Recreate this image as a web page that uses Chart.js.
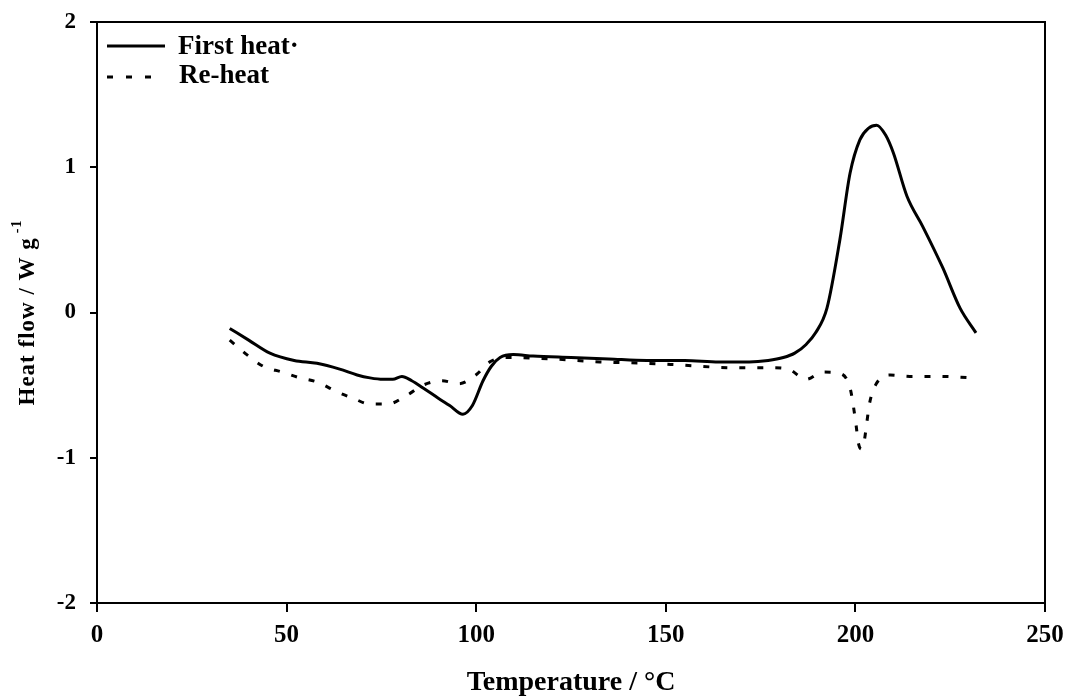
<!DOCTYPE html>
<html lang="en">
<head>
    <meta charset="UTF-8">
    <title>DSC heat flow</title>
    <script src="https://cdn.jsdelivr.net/npm/chart.js"></script>
    <style>
        body {
            margin: 0;
            padding: 0;
            background: #ffffff;
        }
        #wrap {
            width: 1074px;
            height: 699px;
        }
    </style>
</head>
<body>
    <div id="wrap">
        <canvas id="dsc" width="1074" height="699"></canvas>
    </div>

    <script>
        // First heating scan
        const firstTemp = [35, 40, 45.6, 52, 58, 64, 68.6, 72, 75.4, 78, 80.4, 83, 86, 90, 93, 96.5, 99, 101.8, 104, 106.3, 109.8,
            115, 125, 135, 145, 155, 164, 172, 177, 181, 184, 187, 189.5, 192.5, 195.9, 198.6, 201.2, 203.5, 205.6, 208, 210,
            213.6, 217.8, 223, 227.6, 231.8];
        const firstFlow = [-0.11, -0.19, -0.28, -0.33, -0.35, -0.39, -0.43, -0.45, -0.46, -0.46, -0.44, -0.47, -0.52, -0.59, -0.64,
            -0.70, -0.64, -0.47, -0.37, -0.31, -0.29, -0.30, -0.31, -0.32, -0.33, -0.33, -0.34, -0.34, -0.33, -0.31, -0.28,
            -0.22, -0.14, 0.03, 0.5, 0.96, 1.19, 1.27, 1.29, 1.22, 1.10, 0.80, 0.59, 0.31, 0.03, -0.14];

        // Second heating scan
        const reheatTemp = [35, 39.5, 43.8, 48.8, 53.5, 58.2, 62.8, 67.5, 72, 76.7, 81.7, 86, 90.9, 95.5, 99.9, 103.6, 108.4,
            120, 132.6, 145, 152.9, 167.7, 177.5, 182.3, 187, 191.4, 196, 198.6, 199.5, 200.2, 200.8, 201.6, 202.3, 203,
            203.7, 205.3, 209.2, 214.4, 222, 231];
        const reheatFlow = [-0.19, -0.29, -0.37, -0.41, -0.45, -0.48, -0.54, -0.59, -0.63, -0.63, -0.57, -0.50, -0.47, -0.49,
            -0.43, -0.34, -0.31, -0.32, -0.34, -0.35, -0.36, -0.38, -0.38, -0.39, -0.46, -0.41, -0.42, -0.52, -0.65, -0.78,
            -0.90, -0.94, -0.89, -0.76, -0.63, -0.50, -0.43, -0.44, -0.44, -0.45];

        const xTicks = [0, 50, 100, 150, 200, 250];
        const yTicks = [-2, -1, 0, 1, 2];

        const FONT = "'Liberation Serif', 'Times New Roman', serif";

        function toPoints(xs, ys) {
            return xs.map((x, i) => ({ x: x, y: ys[i] }));
        }

        // box around the plot area, legend and axis titles
        const decorations = {
            id: "decorations",
            afterDraw(chart) {
                const ctx = chart.ctx;
                const a = chart.chartArea;
                ctx.save();

                ctx.strokeStyle = "#000";
                ctx.lineWidth = 2;
                ctx.strokeRect(a.left, a.top, a.right - a.left, a.bottom - a.top);

                // legend
                ctx.fillStyle = "#000";
                ctx.font = "bold 27px " + FONT;
                ctx.textBaseline = "middle";
                ctx.textAlign = "left";

                ctx.lineWidth = 3;
                ctx.beginPath();
                ctx.moveTo(107, 46);
                ctx.lineTo(165, 46);
                ctx.stroke();
                ctx.fillText("First heat\u00b7", 178, 47);

                ctx.setLineDash([6, 13]);
                ctx.beginPath();
                ctx.moveTo(107, 77);
                ctx.lineTo(152, 77);
                ctx.stroke();
                ctx.setLineDash([]);
                ctx.fillText("Re-heat", 179, 76);

                // x title
                ctx.font = "bold 28px " + FONT;
                ctx.textAlign = "center";
                ctx.fillText("Temperature / \u00b0C", (a.left + a.right) / 2, 683);

                // y title with superscript
                ctx.translate(28, (a.top + a.bottom) / 2);
                ctx.rotate(-Math.PI / 2);
                ctx.letterSpacing = "1px";
                ctx.font = "bold 23px " + FONT;
                const main = "Heat flow / W g";
                const sup = "-1";
                const wMain = ctx.measureText(main).width;
                ctx.font = "bold 14px " + FONT;
                const wSup = ctx.measureText(sup).width;
                const start = -(wMain + wSup + 4) / 2;
                ctx.textAlign = "left";
                ctx.font = "bold 23px " + FONT;
                ctx.fillText(main, start, 0);
                ctx.font = "bold 14px " + FONT;
                ctx.fillText(sup, start + wMain + 4, -11);

                ctx.restore();
            }
        };

        const chart = new Chart(document.getElementById("dsc"), {
            type: "line",
            data: {
                datasets: [{
                    label: "First heat",
                    data: toPoints(firstTemp, firstFlow),
                    borderColor: "#000",
                    borderWidth: 3,
                    pointRadius: 0,
                    cubicInterpolationMode: "monotone",
                    fill: false
                }, {
                    label: "Re-heat",
                    data: toPoints(reheatTemp, reheatFlow),
                    borderColor: "#000",
                    borderWidth: 3,
                    borderDash: [6, 12],
                    pointRadius: 0,
                    cubicInterpolationMode: "monotone",
                    fill: false
                }]
            },
            options: {
                responsive: false,
                animation: false,
                layout: { padding: { top: 22, right: 29, left: 0, bottom: 0 } },
                plugins: {
                    legend: { display: false },
                    tooltip: { enabled: false }
                },
                scales: {
                    x: {
                        type: "linear",
                        min: 0,
                        max: 250,
                        afterFit(scale) {
                            scale.height = 96;
                            scale.paddingLeft = 0;
                            scale.paddingRight = 0;
                        },
                        afterBuildTicks(scale) { scale.ticks = xTicks.map(v => ({ value: v })); },
                        border: { color: "#000", width: 2 },
                        grid: { drawOnChartArea: false, drawTicks: true, tickLength: 9, color: "#000", lineWidth: 2 },
                        ticks: {
                            color: "#000",
                            padding: 9,
                            maxRotation: 0,
                            font: { family: FONT, size: 25, weight: "bold" }
                        }
                    },
                    y: {
                        min: -2,
                        max: 2,
                        afterFit(scale) {
                            scale.width = 97;
                            scale.paddingTop = 0;
                            scale.paddingBottom = 0;
                        },
                        afterBuildTicks(scale) { scale.ticks = yTicks.map(v => ({ value: v })); },
                        border: { color: "#000", width: 2 },
                        grid: { drawOnChartArea: false, drawTicks: true, tickLength: 7, color: "#000", lineWidth: 2 },
                        ticks: {
                            color: "#000",
                            padding: 14,
                            font: { family: FONT, size: 23, weight: "bold" }
                        }
                    }
                }
            },
            plugins: [decorations]
        });
    </script>
</body>
</html>
